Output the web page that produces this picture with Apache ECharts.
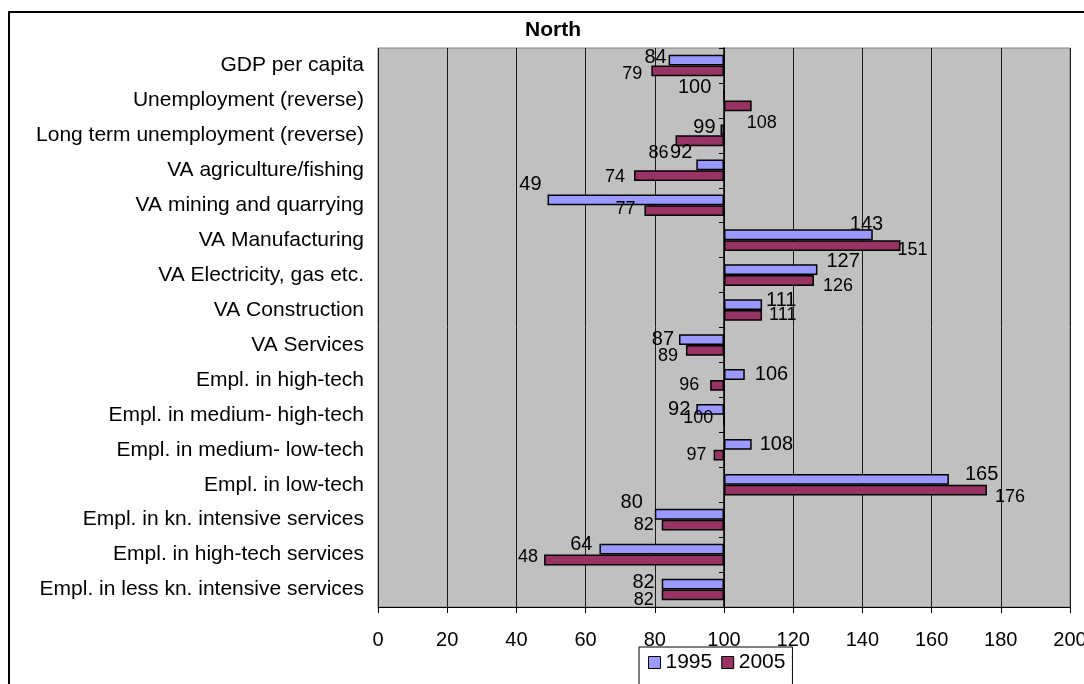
<!DOCTYPE html>
<html>
<head>
<meta charset="utf-8">
<script src="https://cdn.jsdelivr.net/npm/echarts@6/dist/echarts.min.js"></script>
<style>
html, body {margin:0; padding:0; background:#fff;}
#north_chart {width:1084px; height:684px;}
</style>
</head>
<body>
<div id="north_chart"></div>
<script type="text/javascript">
	// indicator names, top to bottom
	var categories = [
		'GDP per capita',
		'Unemployment (reverse)',
		'Long term unemployment (reverse)',
		'VA agriculture/fishing',
		'VA mining and quarrying',
		'VA Manufacturing',
		'VA Electricity, gas etc.',
		'VA Construction',
		'VA Services',
		'Empl. in high-tech',
		'Empl. in medium- high-tech',
		'Empl. in medium- low-tech',
		'Empl. in low-tech',
		'Empl. in kn. intensive services',
		'Empl. in high-tech services',
		'Empl. in less kn. intensive services'
	];
	var values1995 = [84, 100, 99, 92, 49, 143, 127, 111, 87, 106, 92, 108, 165, 80, 64, 82];
	var values2005 = [79, 108, 86, 74, 77, 151, 126, 111, 89, 96, 100, 97, 176, 82, 48, 82];
	var baseline = 100;

	// hand placed data labels in the original, nudged [dx, dy]
	var labelShift1995 = [[5,-3],[-5,-8],[2,-2],[3,-12],[1,-15],[-30,-10],[2,-8],[-3,-4],[2,0],[3,0],[1,0],[1,0],[9,-5],[-5,-12],[0,-5],[0,-2]];
	var labelShift2005 = [[-2,3],[-12,17],[0,12],[-2,1],[-2,-2],[-10,4],[2,6],[0,0],[-1,6],[-4,0],[-3,-2],[0,0],[1,7],[-1,0],[1,-3],[-1,5]];

	var font = 'Liberation Sans, Arial, sans-serif';

	function barData(values, shifts){
		return values.map(function(v, i){
			return {
				value: v - baseline,
				label: {position: v > baseline ? 'right' : 'left', offset: shifts[i]}
			};
		});
	}

	var dom = document.getElementById("north_chart");
	var myChart = echarts.init(dom);
	var option = {
		animation: false,
		backgroundColor: '#ffffff',
		title: {
			text: 'North',
			left: 525,
			top: 20,
			padding: 0,
			textStyle: {fontFamily: font, fontSize: 21, fontWeight: 'bold', color: '#000'}
		},
		graphic: [{
			type: 'rect',
			silent: true,
			shape: {x: 9, y: 12, width: 1300, height: 900},
			style: {fill: 'none', stroke: '#000', lineWidth: 2}
		}],
		legend: {
			left: 639,
			top: 647,
			padding: [5, 7, 14, 9],
			itemGap: 9,
			itemWidth: 12,
			itemHeight: 12,
			icon: 'rect',
			backgroundColor: '#fff',
			borderColor: '#000',
			borderWidth: 1,
			borderRadius: 0,
			itemStyle: {borderColor: '#000', borderWidth: 1},
			textStyle: {fontFamily: font, fontSize: 21, color: '#000'},
			data: ['1995', '2005']
		},
		grid: {
			left: 378,
			right: 14,
			top: 48,
			bottom: 77,
			outerBoundsMode: 'none',
			containLabel: false,
			show: true,
			backgroundColor: '#c0c0c0',
			borderColor: '#808080',
			borderWidth: 1
		},
		xAxis: {
			type: 'value',
			min: -100,
			max: 100,
			interval: 20,
			axisLine: {show: true, lineStyle: {color: '#000', width: 1}},
			axisTick: {show: true, length: 6, lineStyle: {color: '#000'}},
			splitLine: {show: true, lineStyle: {color: '#1a1a1a', width: 1}},
			axisLabel: {
				margin: 23,
				fontFamily: font,
				fontSize: 20,
				color: '#000',
				formatter: function(v){ return v + baseline; }
			}
		},
		yAxis: [
			{
				type: 'category',
				inverse: true,
				position: 'left',
				data: categories,
				axisLine: {show: false, onZero: false},
				axisTick: {show: false},
				axisLabel: {margin: 14, fontFamily: font, fontSize: 21, color: '#000'}
			},
			{
				type: 'category',
				inverse: true,
				position: 'right',
				data: categories,
				axisLine: {show: true, onZero: true, lineStyle: {color: '#000', width: 1.5}},
				axisTick: {show: true, inside: true, length: 5, lineStyle: {color: '#000'}},
				axisLabel: {show: false}
			}
		],
		series: [
			{
				name: '1995',
				type: 'bar',
				barGap: 0,
				barCategoryGap: '38%',
				itemStyle: {color: '#9999ff', borderColor: '#000', borderWidth: 1.5},
				label: {
					show: true,
					distance: 7,
					fontFamily: font,
					fontSize: 20,
					color: '#000',
					formatter: function(p){ return values1995[p.dataIndex]; }
				},
				data: barData(values1995, labelShift1995)
			},
			{
				name: '2005',
				type: 'bar',
				barGap: 0,
				barCategoryGap: '38%',
				itemStyle: {color: '#993366', borderColor: '#000', borderWidth: 1.5},
				label: {
					show: true,
					distance: 7,
					fontFamily: font,
					fontSize: 18,
					color: '#000',
					formatter: function(p){ return values2005[p.dataIndex]; }
				},
				data: barData(values2005, labelShift2005)
			}
		]
	};
	if(option && typeof option === "object"){
		myChart.setOption(option, true);
	}
</script>
</body>
</html>
